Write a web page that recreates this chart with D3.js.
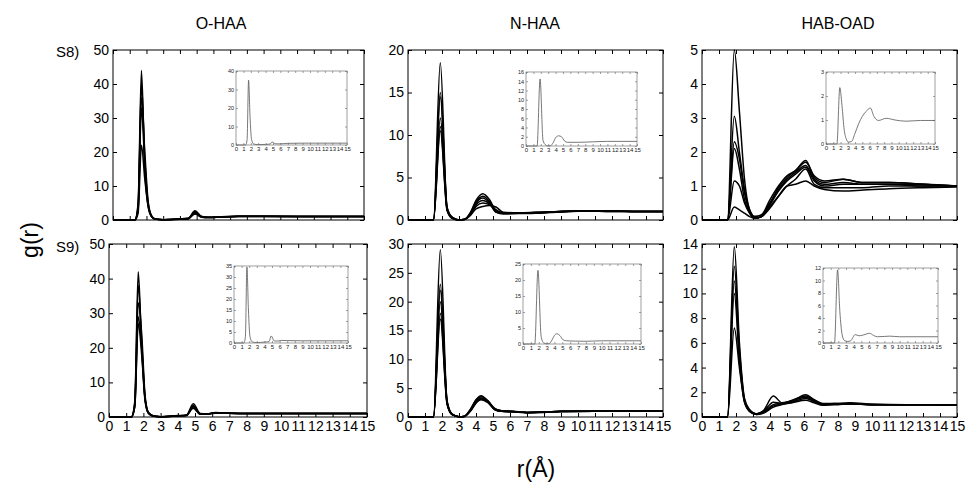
<!DOCTYPE html>
<html>
<head>
<meta charset="utf-8">
<script src="https://cdn.jsdelivr.net/npm/d3@7"></script>
<style>
  body { margin: 0; background: #fff; }
  svg { display: block; font-family: "Liberation Sans", Arial, sans-serif; }
</style>
</head>
<body>
<svg id="chart"></svg>
<script>
// shared tick labels
const xTickLabels = [0, 1, 2, 3, 4, 5, 6, 7, 8, 9, 10, 11, 12, 13, 14, 15];
const colTitles = ['O-HAA', 'N-HAA', 'HAB-OAD'];
const rowTitles = ['S8)', 'S9)'];

// O-HAA, S8
const rOHAA8 = [0, 1.3, 1.5, 1.7, 1.9, 2.1, 2.3, 2.5, 3, 4, 4.5, 4.9, 5.3, 5.7, 6.5, 7.5, 9, 11, 13, 15];
const gOHAA8 = [
  [0, 0, 5, 44, 15, 4, 1, 0.3, 0.1, 0.3, 0.5, 2.7, 1.0, 0.8, 0.9, 1.1, 1.1, 1.05, 1.0, 1.0],
  [0, 0, 4, 40, 18, 5, 1.2, 0.3, 0.1, 0.3, 0.4, 2.3, 0.9, 0.7, 0.9, 1.1, 1.1, 1.0, 1.0, 1.0],
  [0, 0, 3.5, 36, 20, 5.5, 1.3, 0.4, 0.1, 0.2, 0.4, 2.0, 0.8, 0.7, 0.85, 1.05, 1.05, 1.0, 1.0, 1.0],
  [0, 0, 3, 33, 16, 4.5, 1.1, 0.3, 0.1, 0.3, 0.5, 2.5, 1.0, 0.8, 0.95, 1.1, 1.1, 1.05, 1.0, 1.0],
  [0, 0, 2, 22, 12, 4, 1, 0.3, 0.1, 0.2, 0.35, 1.8, 0.8, 0.7, 0.9, 1.05, 1.05, 1.0, 1.0, 1.0]
];
const yOHAA8 = [0, 10, 20, 30, 40, 50];
const rOHAA8in = [0, 1.3, 1.5, 1.7, 1.9, 2.1, 2.4, 3, 4, 4.6, 4.9, 5.3, 5.8, 7, 9, 12, 15];
const gOHAA8in = [0, 0, 3, 35, 15, 3, 0.5, 0.2, 0.3, 0.5, 1.6, 0.7, 0.6, 0.9, 1.0, 1.0, 1.0];
const yOHAA8in = [0, 10, 20, 30, 40];

// N-HAA, S8
const rNHAA8 = [0, 1.5, 1.9, 2.3, 2.6, 3.0, 3.3, 3.7, 4.0, 4.4, 4.8, 5.2, 5.6, 6.5, 7.5, 9, 10.5, 12, 13.5, 15];
const gNHAA8 = [
  [0, 0, 18.5, 1.2, 0.3, 0, 0.05, 1.0, 2.3, 3.1, 2.4, 1.0, 0.8, 0.8, 0.8, 0.95, 1.05, 1.05, 1.0, 1.0],
  [0, 0, 15, 1.5, 0.3, 0, 0.05, 0.9, 2.1, 2.8, 2.2, 1.0, 0.8, 0.8, 0.85, 1.0, 1.05, 1.05, 1.0, 1.0],
  [0, 0, 14.5, 1.4, 0.3, 0, 0.05, 0.8, 2.0, 2.6, 2.0, 0.9, 0.7, 0.75, 0.8, 1.0, 1.1, 1.05, 1.0, 1.0],
  [0, 0, 12, 1.3, 0.25, 0, 0.05, 0.8, 1.8, 2.3, 1.9, 0.9, 0.8, 0.8, 0.85, 1.0, 1.05, 1.0, 1.0, 1.0],
  [0, 0, 11, 1.2, 0.2, 0, 0.05, 0.7, 1.6, 2.0, 1.8, 1.2, 0.8, 0.8, 0.9, 1.0, 1.05, 1.05, 1.0, 1.0],
  [0, 0, 10.5, 1.1, 0.2, 0, 0.05, 0.6, 1.3, 1.6, 1.7, 1.5, 0.9, 0.85, 0.9, 1.0, 1.05, 1.0, 1.0, 1.0]
];
const yNHAA8 = [0, 5, 10, 15, 20];
const rNHAA8in = [0, 1.5, 1.9, 2.3, 2.6, 3.0, 3.3, 3.7, 4.0, 4.4, 4.8, 5.2, 5.6, 7, 9, 11, 13, 15];
const gNHAA8in = [0, 0, 14.5, 1.2, 0.3, 0, 0.05, 0.8, 1.8, 2.2, 2.0, 1.1, 0.8, 0.8, 0.9, 1.0, 1.0, 1.0];
const yNHAA8in = [0, 2, 4, 6, 8, 10, 12, 14, 16];

// HAB-OAD, S8
const rHAB8 = [0, 1.5, 1.9, 2.2, 2.5, 2.8, 3.1, 3.5, 4.0, 4.5, 5.0, 5.5, 6.1, 6.6, 7.2, 8.3, 9.5, 11, 13, 15];
const gHAB8 = [
  [0, 0, 5.0, 3.2, 1.2, 0.3, 0.1, 0.15, 0.6, 1.0, 1.3, 1.45, 1.75, 1.25, 1.1, 1.2, 1.1, 1.1, 1.05, 1.0],
  [0, 0, 3.05, 2.0, 0.9, 0.3, 0.1, 0.15, 0.5, 0.95, 1.25, 1.45, 1.7, 1.3, 1.15, 1.2, 1.1, 1.1, 1.05, 1.0],
  [0, 0, 2.3, 1.8, 0.8, 0.25, 0.05, 0.1, 0.5, 0.9, 1.2, 1.4, 1.6, 1.2, 1.05, 1.1, 1.05, 1.05, 1.05, 1.0],
  [0, 0, 2.1, 1.5, 0.6, 0.2, 0.05, 0.1, 0.45, 0.85, 1.15, 1.35, 1.55, 1.15, 1.0, 1.05, 1.05, 1.05, 1.0, 1.0],
  [0, 0, 1.15, 1.0, 0.5, 0.2, 0.05, 0.1, 0.4, 0.7, 1.0, 1.2, 1.5, 1.05, 0.95, 0.95, 0.95, 1.0, 1.0, 1.0],
  [0, 0, 0.38, 0.3, 0.2, 0.1, 0.05, 0.1, 0.35, 0.7, 1.0, 1.05, 1.15, 1.0, 0.9, 0.85, 0.88, 0.92, 0.95, 0.97]
];
const yHAB8 = [0, 1, 2, 3, 4, 5];
const rHAB8in = [0, 1.5, 1.9, 2.2, 2.5, 2.8, 3.1, 3.5, 4.0, 4.5, 5.0, 5.5, 6.1, 6.6, 7.2, 8.3, 9.5, 11, 13, 15];
const gHAB8in = [0, 0, 2.35, 1.6, 0.6, 0.2, 0.08, 0.1, 0.45, 0.85, 1.15, 1.35, 1.5, 1.15, 0.98, 1.07, 1.0, 0.95, 0.98, 0.98];
const yHAB8in = [0, 1, 2, 3];

// O-HAA, S9
const rOHAA9 = [0, 1.3, 1.5, 1.7, 1.9, 2.1, 2.3, 2.6, 3, 4, 4.5, 4.9, 5.3, 5.7, 6.2, 7, 8, 10, 12, 15];
const gOHAA9 = [
  [0, 0, 4.5, 42, 20, 5, 1.0, 0.2, 0.1, 0.4, 0.5, 3.8, 1.0, 0.9, 1.3, 1.1, 1.0, 1.0, 1.0, 1.0],
  [0, 0, 4, 38, 22, 5.5, 1.2, 0.3, 0.1, 0.3, 0.5, 3.3, 0.9, 0.9, 1.2, 1.1, 1.0, 1.0, 1.0, 1.0],
  [0, 0, 3.5, 33, 24, 6, 1.3, 0.3, 0.1, 0.3, 0.4, 2.9, 0.8, 0.8, 1.2, 1.05, 1.0, 1.0, 1.0, 1.0],
  [0, 0, 3, 29, 20, 5, 1.1, 0.2, 0.1, 0.3, 0.5, 2.5, 0.8, 0.9, 1.1, 1.05, 1.0, 1.0, 1.0, 1.0],
  [0, 0, 3, 27, 18, 4.5, 1.0, 0.2, 0.1, 0.3, 0.45, 3.0, 0.9, 0.85, 1.15, 1.05, 1.0, 1.0, 1.0, 1.0]
];
const yOHAA9 = [0, 10, 20, 30, 40, 50];
const rOHAA9in = [0, 1.3, 1.5, 1.7, 1.9, 2.1, 2.4, 3, 4, 4.6, 4.9, 5.3, 5.8, 6.3, 7, 9, 12, 15];
const gOHAA9in = [0, 0, 3, 34.5, 15, 3, 0.5, 0.2, 0.4, 0.6, 3.2, 0.9, 0.9, 1.2, 1.1, 1.0, 1.0, 1.0];
const yOHAA9in = [0, 5, 10, 15, 20, 25, 30, 35];

// N-HAA, S9
const rNHAA9 = [0, 1.5, 1.9, 2.3, 2.6, 3.0, 3.3, 3.7, 4.0, 4.3, 4.7, 5.1, 5.5, 6.2, 7, 8, 9, 11, 13, 15];
const gNHAA9 = [
  [0, 0, 29, 2.5, 0.5, 0.05, 0.1, 1.5, 3.0, 3.7, 2.8, 1.5, 1.1, 1.0, 0.8, 0.85, 1.0, 1.0, 1.0, 1.0],
  [0, 0, 23, 2.8, 0.5, 0.05, 0.1, 1.4, 2.9, 3.5, 2.8, 1.4, 1.1, 0.95, 0.8, 0.85, 0.95, 1.0, 1.0, 1.0],
  [0, 0, 22, 2.6, 0.45, 0.05, 0.1, 1.3, 2.7, 3.3, 2.7, 1.4, 1.05, 0.95, 0.8, 0.85, 0.95, 1.0, 1.0, 1.0],
  [0, 0, 20, 2.4, 0.4, 0.05, 0.1, 1.2, 2.6, 3.1, 2.6, 1.3, 1.0, 0.9, 0.75, 0.8, 0.95, 1.0, 1.0, 1.0],
  [0, 0, 18, 2.3, 0.4, 0.05, 0.1, 1.1, 2.4, 3.0, 2.5, 1.3, 1.0, 0.9, 0.75, 0.85, 0.95, 1.0, 1.0, 1.0],
  [0, 0, 17, 2.2, 0.4, 0.05, 0.1, 1.2, 2.5, 3.1, 2.6, 1.3, 1.0, 0.9, 0.8, 0.85, 1.0, 1.0, 1.0, 1.0]
];
const yNHAA9 = [0, 5, 10, 15, 20, 25, 30];
const rNHAA9in = [0, 1.5, 1.9, 2.3, 2.6, 3.0, 3.3, 3.7, 4.0, 4.3, 4.7, 5.1, 5.5, 6.5, 8, 10, 12, 15];
const gNHAA9in = [0, 0, 23, 2.5, 0.4, 0.05, 0.1, 1.3, 2.7, 3.2, 2.6, 1.3, 1.0, 0.9, 0.85, 1.0, 1.0, 1.0];
const yNHAA9in = [0, 5, 10, 15, 20, 25];

// HAB-OAD, S9
const rHAB9 = [0, 1.5, 1.9, 2.2, 2.5, 2.8, 3.2, 3.6, 4.2, 4.7, 5.3, 6.1, 6.6, 7.1, 8.0, 8.7, 10, 12, 13.5, 15];
const gHAB9 = [
  [0, 0, 13.8, 6, 1.5, 0.6, 0.25, 0.5, 1.7, 1.15, 1.3, 1.8, 1.4, 1.1, 1.1, 1.1, 1.0, 1.0, 1.0, 0.95],
  [0, 0, 12.2, 5.5, 1.4, 0.5, 0.25, 0.45, 1.2, 1.1, 1.35, 1.7, 1.35, 1.05, 1.1, 1.15, 1.05, 1.0, 1.0, 0.95],
  [0, 0, 11, 5, 1.3, 0.5, 0.25, 0.4, 1.0, 1.1, 1.3, 1.6, 1.3, 1.05, 1.05, 1.1, 1.0, 1.0, 1.0, 0.95],
  [0, 0, 10, 4.5, 1.2, 0.45, 0.2, 0.35, 0.9, 1.05, 1.2, 1.5, 1.25, 1.0, 1.05, 1.05, 1.0, 1.0, 1.0, 0.95],
  [0, 0, 7.2, 4, 1.2, 0.45, 0.2, 0.3, 0.8, 1.0, 1.15, 1.35, 1.15, 0.95, 1.0, 1.05, 1.0, 1.0, 1.0, 0.95]
];
const yHAB9 = [0, 2, 4, 6, 8, 10, 12, 14];
const rHAB9in = [0, 1.5, 1.9, 2.2, 2.5, 2.8, 3.2, 3.6, 4.2, 4.7, 5.3, 6.1, 6.6, 7.1, 8, 8.7, 10, 12, 15];
const gHAB9in = [0, 0, 11.7, 5, 1.3, 0.4, 0.25, 0.35, 1.35, 1.15, 1.3, 1.55, 1.2, 1.0, 1.05, 1.1, 1.0, 1.0, 1.0];
const yHAB9in = [0, 2, 4, 6, 8, 10, 12];

const width = 968;
const height = 487;

const svg = d3.select('#chart').attr('width', width).attr('height', height);

// layout of each panel (pixel boxes)
const panels = [
  { x: 113, y: 50, w: 251, h: 170, r: rOHAA8, g: gOHAA8, yTicks: yOHAA8, xLabels: false,
    inset: { x: 236, y: 71, w: 111, h: 74, r: rOHAA8in, g: gOHAA8in, yTicks: yOHAA8in } },
  { x: 408, y: 50, w: 255, h: 170, r: rNHAA8, g: gNHAA8, yTicks: yNHAA8, xLabels: false,
    inset: { x: 526, y: 72, w: 111, h: 74, r: rNHAA8in, g: gNHAA8in, yTicks: yNHAA8in } },
  { x: 702, y: 50, w: 255, h: 170, r: rHAB8, g: gHAB8, yTicks: yHAB8, xLabels: false,
    inset: { x: 826, y: 72, w: 109, h: 72, r: rHAB8in, g: gHAB8in, yTicks: yHAB8in } },
  { x: 109, y: 244, w: 258, h: 173, r: rOHAA9, g: gOHAA9, yTicks: yOHAA9, xLabels: true,
    inset: { x: 234, y: 266, w: 114, h: 77, r: rOHAA9in, g: gOHAA9in, yTicks: yOHAA9in } },
  { x: 408, y: 244, w: 255, h: 173, r: rNHAA9, g: gNHAA9, yTicks: yNHAA9, xLabels: true,
    inset: { x: 523, y: 264, w: 118, h: 80, r: rNHAA9in, g: gNHAA9in, yTicks: yNHAA9in } },
  { x: 702, y: 244, w: 255, h: 173, r: rHAB9, g: gHAB9, yTicks: yHAB9, xLabels: true,
    inset: { x: 823, y: 268, w: 115, h: 75, r: rHAB9in, g: gHAB9in, yTicks: yHAB9in } }
];

let drawBox = (p, opts) => {
  let g = svg.append('g').attr('transform', `translate(${p.x},${p.y})`);
  let x = d3.scaleLinear().domain([0, 15]).range([0, p.w]);
  let y = d3.scaleLinear().domain([0, d3.max(p.yTicks)]).range([p.h, 0]);

  if (opts.fill) {
    g.append('rect').attr('width', p.w).attr('height', p.h).attr('fill', '#fff');
  }

  let axes = [
    { axis: d3.axisBottom(x).tickValues(xTickLabels), t: `translate(0,${p.h})`, labels: opts.xLabels, fs: opts.xfs },
    { axis: d3.axisTop(x).tickValues(xTickLabels), t: 'translate(0,0)', labels: false },
    { axis: d3.axisLeft(y).tickValues(p.yTicks), t: 'translate(0,0)', labels: true, fs: opts.yfs },
    { axis: d3.axisRight(y).tickValues(p.yTicks), t: `translate(${p.w},0)`, labels: false }
  ];
  axes.forEach((a) => {
    a.axis.tickSizeInner(-opts.tick).tickSizeOuter(0).tickPadding(opts.pad);
    a.axis.tickFormat(a.labels ? (d) => String(d) : '');
    let ag = g.append('g').attr('transform', a.t).call(a.axis);
    ag.select('.domain').remove();
    ag.selectAll('line').attr('stroke', opts.color).attr('stroke-width', opts.sw);
    ag.selectAll('text')
      .attr('fill', opts.textColor)
      .style('font-family', '"Liberation Sans", Arial, sans-serif')
      .style('font-size', (a.fs || 10) + 'px');
  });

  let line = d3.line()
    .x((d, i) => x(p.r[i]))
    .y((d) => y(d))
    .curve(d3.curveMonotoneX);

  let series = Array.isArray(p.g[0]) ? p.g : [p.g];
  g.selectAll('path.curve')
    .data(series)
    .enter()
    .append('path')
    .attr('class', 'curve')
    .attr('d', line)
    .attr('fill', 'none')
    .attr('stroke', opts.lineColor)
    .attr('stroke-width', opts.lw)
    .attr('stroke-linejoin', 'round');

  g.append('rect')
    .attr('width', p.w)
    .attr('height', p.h)
    .attr('fill', 'none')
    .attr('stroke', opts.color)
    .attr('stroke-width', opts.sw);
};

panels.forEach((p) => {
  drawBox(p, {
    fill: false, xLabels: p.xLabels, tick: 4, pad: 4, xfs: 14, yfs: 14,
    color: '#000', textColor: '#000', sw: 1, lineColor: '#000', lw: 1.5
  });
  drawBox(p.inset, {
    fill: true, xLabels: true, tick: 2, pad: 2, xfs: 6, yfs: 5.5,
    color: '#777', textColor: '#222', sw: 0.7, lineColor: '#555', lw: 0.8
  });
});

// column titles
const titleX = [221, 535, 838];
colTitles.forEach((t, i) => {
  svg.append('text')
    .attr('x', titleX[i]).attr('y', 29)
    .attr('text-anchor', 'middle')
    .style('font-size', '16px')
    .text(t);
});

// row tags
const rowY = [57, 252];
rowTitles.forEach((t, i) => {
  svg.append('text')
    .attr('x', 56).attr('y', rowY[i])
    .style('font-size', '15px')
    .text(t);
});

// axis titles
svg.append('text')
  .attr('transform', 'translate(38,240) rotate(-90)')
  .attr('text-anchor', 'middle')
  .style('font-size', '23px')
  .text('g(r)');

svg.append('text')
  .attr('x', 536).attr('y', 477)
  .attr('text-anchor', 'middle')
  .style('font-size', '23px')
  .text('r(Å)');
</script>
</body>
</html>
